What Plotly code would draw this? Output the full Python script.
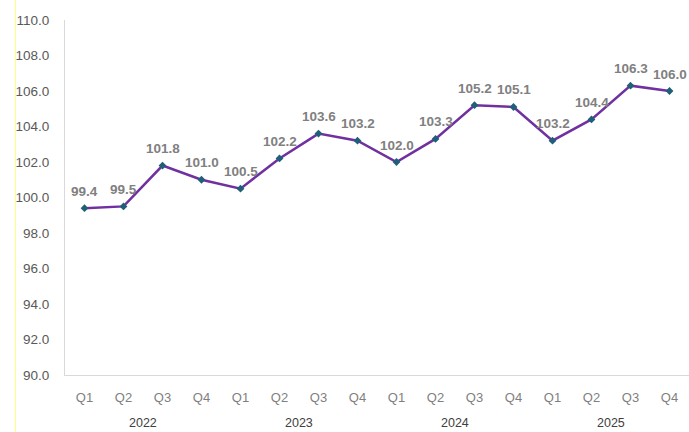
import plotly.graph_objects as go

quarters = ["Q1", "Q2", "Q3", "Q4"] * 4
years = ["2022", "2023", "2024", "2025"]
values = [99.4, 99.5, 101.8, 101.0, 100.5, 102.2, 103.6, 103.2,
          102.0, 103.3, 105.2, 105.1, 103.2, 104.4, 106.3, 106.0]
y_ticks = [90, 92, 94, 96, 98, 100, 102, 104, 106, 108, 110]

x = list(range(len(values)))
FONT = "Liberation Sans, Arial, sans-serif"

fig = go.Figure()
fig.add_trace(go.Scatter(
    x=x, y=values,
    mode="lines+markers",
    line=dict(color="#7030a0", width=2.5),
    marker=dict(symbol="diamond", size=6, color="#1f5f78"),
    cliponaxis=False,
    hoverinfo="skip",
))

for xi, v in zip(x, values):
    fig.add_annotation(
        x=xi, y=v, xref="x", yref="y",
        text=f"{v:.1f}", showarrow=False, yanchor="middle", yshift=17,
        font=dict(family=FONT, size=13.5, color="#808080", weight="bold"),
    )

for i, yr in enumerate(years):
    fig.add_annotation(
        x=i * 4 + 1.5, y=-0.135, xref="x", yref="paper",
        text=yr, showarrow=False, yanchor="middle",
        font=dict(family=FONT, size=12.5, color="#404040"),
    )

fig.add_shape(type="line", xref="paper", yref="paper",
              x0=-0.0793, x1=-0.0793, y0=-0.17, y1=1.06,
              line=dict(color="#ffff80", width=1))

fig.update_layout(
    width=689, height=432,
    margin=dict(l=65, r=0, t=20, b=57),
    paper_bgcolor="white", plot_bgcolor="white",
    showlegend=False,
    font=dict(family=FONT),
    xaxis=dict(
        range=[-0.5, 15.5],
        tickvals=x, ticktext=quarters,
        showgrid=False, zeroline=False,
        showline=True, linecolor="#d9d9d9", linewidth=1,
        ticks="", ticklabelstandoff=10,
        tickfont=dict(size=13, color="#7f7f7f"),
    ),
    yaxis=dict(
        range=[90, 110],
        tickvals=y_ticks, ticktext=[f"{v:.1f}" for v in y_ticks],
        showgrid=False, zeroline=False,
        showline=True, linecolor="#d9d9d9", linewidth=1,
        ticks="", ticklabelstandoff=12,
        tickfont=dict(size=13.5, color="#595959"),
    ),
)

fig.write_html("out.html", config={"displayModeBar": False},
               post_script="document.body.style.margin='0';document.body.style.overflow='hidden';")
